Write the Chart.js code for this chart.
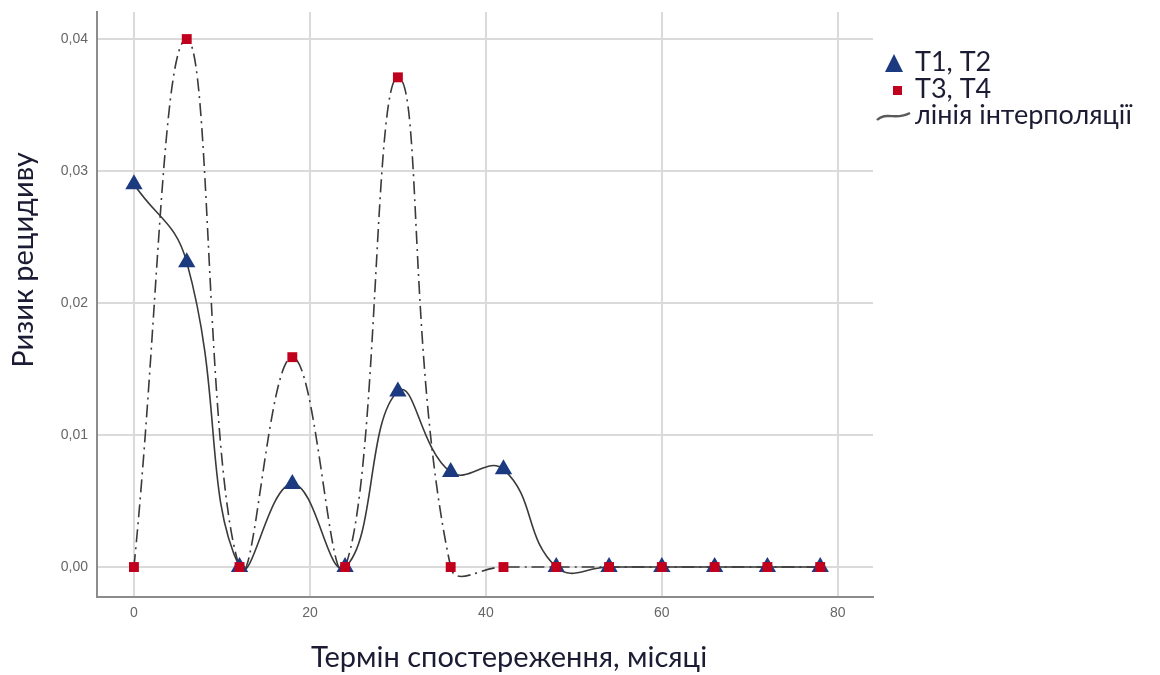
<!DOCTYPE html>
<html>
<head>
<meta charset="utf-8">
<script src="https://cdn.jsdelivr.net/npm/chart.js@4/dist/chart.umd.min.js"></script>
<style>
  html, body { margin: 0; padding: 0; background: #ffffff; }
  #wrap { width: 1160px; height: 675px; }
</style>
</head>
<body>
<div id="wrap"><canvas id="c" width="1160" height="675"></canvas></div>
<script>
// Observation months
const months = [0, 6, 12, 18, 24, 30, 36, 42, 48, 54, 60, 66, 72, 78];
// Recurrence risk, stages T1, T2
const riskT12 = [0.029, 0.0231, 0, 0.0063, 0, 0.0133, 0.0072, 0.0074, 0, 0, 0, 0, 0, 0];
// Recurrence risk, stages T3, T4
const riskT34 = [0, 0.040, 0, 0.0159, 0, 0.0371, 0, 0, 0, 0, 0, 0, 0, 0];
// Axis tick values
const xTicks = [0, 20, 40, 60, 80];
const yTicks = [0, 0.01, 0.02, 0.03, 0.04];

const legendLabels = ['T1, T2', 'T3, T4', 'лінія інтерполяції'];
const xTitle = 'Термін спостереження, місяці';
const yTitle = 'Ризик рецидиву';

const NAVY = '#1c3a80';
const RED = '#c0001c';
const LINE = '#3a3a3a';
const TEXT = '#1b1b33';
const FAMILY = 'Lato, "Open Sans", sans-serif';

const pts = (ys) => months.map((m, i) => ({ x: m, y: ys[i] }));

// Axis titles and legend drawn beside the plot area
const sidePlugin = {
  id: 'side',
  afterDraw(chart) {
    const ctx = chart.ctx;
    ctx.save();
    ctx.fillStyle = TEXT;
    ctx.textAlign = 'center';
    ctx.textBaseline = 'middle';
    // x title
    ctx.font = '29px ' + FAMILY;
    ctx.fillText(xTitle, 509, 658);
    // y title
    ctx.save();
    ctx.font = '29px ' + FAMILY;
    ctx.translate(24, 260);
    ctx.rotate(-Math.PI / 2);
    ctx.fillText(yTitle, 0, 0);
    ctx.restore();

    // legend
    ctx.font = '27px ' + FAMILY;
    ctx.textAlign = 'left';
    const tx = 915;
    // triangle
    ctx.fillStyle = NAVY;
    ctx.beginPath();
    ctx.moveTo(894, 54); ctx.lineTo(903, 72); ctx.lineTo(885, 72); ctx.closePath();
    ctx.fill();
    // square
    ctx.fillStyle = RED;
    ctx.fillRect(893, 86, 9, 9);
    // curve symbol
    ctx.strokeStyle = '#5a5a5a';
    ctx.lineWidth = 2.4;
    ctx.beginPath();
    ctx.moveTo(877, 120);
    ctx.bezierCurveTo(886, 111, 896, 121, 910, 113);
    ctx.stroke();

    ctx.fillStyle = TEXT;
    ctx.fillText(legendLabels[0], tx, 62);
    ctx.fillText(legendLabels[1], tx, 89);
    ctx.fillText(legendLabels[2], tx, 115);
    ctx.restore();
  }
};

const tickFont = { family: '"Liberation Sans", Arial, sans-serif', size: 14 };
const noPad = (s) => { s.paddingTop = 0; s.paddingBottom = 0; s.paddingLeft = 0; s.paddingRight = 0; };

new Chart(document.getElementById('c'), {
  type: 'line',
  data: {
    datasets: [
      {
        label: legendLabels[1],
        data: pts(riskT34),
        showLine: false,
        pointStyle: 'rect',
        pointRadius: 7,
        pointHoverRadius: 7,
        backgroundColor: RED,
        borderColor: RED,
        borderWidth: 0,
        order: 0
      },
      {
        label: legendLabels[0],
        data: pts(riskT12),
        showLine: false,
        pointStyle: 'triangle',
        pointRadius: 10,
        pointHoverRadius: 10,
        backgroundColor: NAVY,
        borderColor: NAVY,
        borderWidth: 0,
        order: 1
      },
      {
        label: legendLabels[2],
        data: pts(riskT12),
        borderColor: LINE,
        borderWidth: 1.6,
        pointRadius: 0,
        tension: 0.45,
        fill: false,
        order: 2
      },
      {
        label: legendLabels[2],
        data: pts(riskT34),
        borderColor: LINE,
        borderWidth: 1.6,
        borderDash: [13, 5, 2, 5],
        pointRadius: 0,
        tension: 0.45,
        fill: false,
        order: 3
      }
    ]
  },
  options: {
    responsive: false,
    animation: false,
    events: [],
    layout: { padding: { left: 0, right: 287, top: 12, bottom: 0 } },
    elements: { line: { capBezierPoints: false } },
    plugins: {
      legend: { display: false },
      tooltip: { enabled: false }
    },
    scales: {
      x: {
        type: 'linear',
        min: -4.2,
        max: 84,
        afterFit(s) { s.height = 78; noPad(s); },
        afterBuildTicks(s) { s.ticks = xTicks.map(v => ({ value: v })); },
        grid: { color: '#dadada', lineWidth: 2, drawTicks: false },
        border: { color: '#8c8c8c', width: 2 },
        ticks: { color: '#666666', font: tickFont, padding: 8, maxRotation: 0 }
      },
      y: {
        type: 'linear',
        min: -0.00227,
        max: 0.04205,
        afterFit(s) { s.width = 97; noPad(s); },
        afterBuildTicks(s) { s.ticks = yTicks.map(v => ({ value: v })); },
        grid: { color: '#dadada', lineWidth: 2, drawTicks: false },
        border: { color: '#8c8c8c', width: 2 },
        ticks: {
          color: '#666666',
          font: tickFont,
          padding: 9,
          callback: (v) => Number(v).toFixed(2).replace('.', ',')
        }
      }
    }
  },
  plugins: [sidePlugin]
});
</script>
</body>
</html>
